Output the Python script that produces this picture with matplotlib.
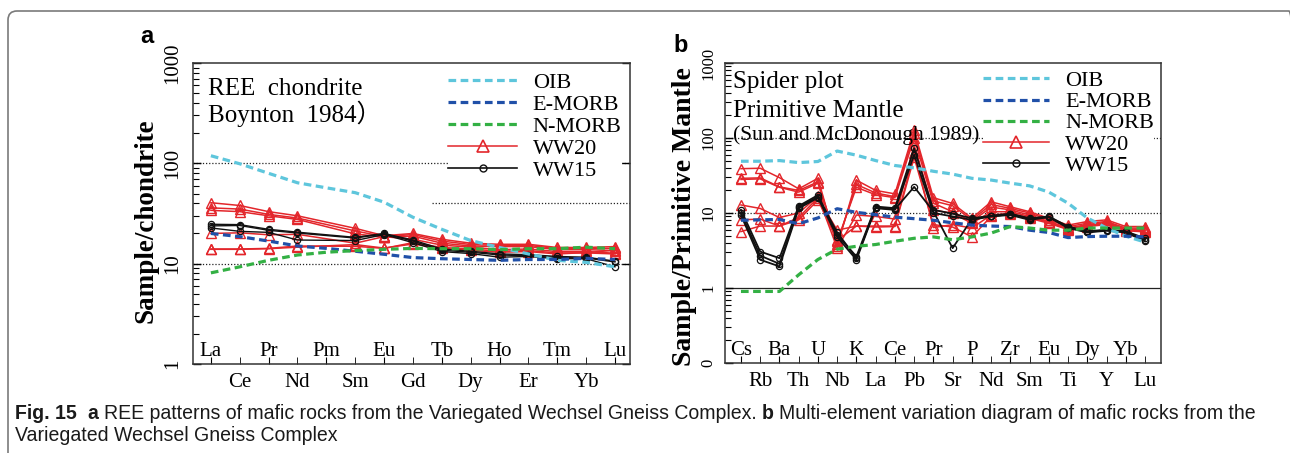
import numpy as np
import matplotlib
matplotlib.use('agg')
import matplotlib.pyplot as plt
from matplotlib.ticker import LogLocator, NullFormatter
from matplotlib.patches import FancyBboxPatch
from matplotlib.transforms import IdentityTransform
from matplotlib import font_manager

# ---- panel a: REE, chondrite normalised ----
ree = ['La', 'Ce', 'Pr', 'Nd', 'Pm', 'Sm', 'Eu', 'Gd', 'Tb', 'Dy', 'Ho', 'Er', 'Tm', 'Yb', 'Lu']
oib_ree = [119, 99, 79.5, 64, 57, 51, 41, 29, 22, 17, 14.5, 12.5, 10.8, 10.3, 9.3]
emorb_ree = [20, 18.6, 16.8, 15, 14.2, 13.3, 12.4, 11.5, 11.2, 11, 10.8, 11, 11, 11.3, 11]
nmorb_ree = [8.1, 9.3, 10.8, 12.2, 13, 13.5, 13.9, 14.2, 14.1, 14.1, 13.8, 14.1, 14.1, 14.6, 14.1]
ww20_ree = [
    [40.5, 38, 33, 30, None, 22.5, 19, 20, 17.5, 16, 15.6, 15.6, 14.5, 14.5, 14.8],
    [36, 35, 31, 28.5, None, 21.2, 18.6, 19.5, 16.8, 15.5, 15.2, 15.2, 14.2, 14.2, 14.2],
    [34, 33, 30, 27.6, None, 19.8, 18.4, 18.8, 16, 15, 14.8, 14.8, 13.8, 13.8, 13.5],
    [20, 20.3, 19.4, 19.6, None, 16, 18.6, 17.5, 15.3, 14.6, 13.8, 14, 13.2, 13.2, 12.7],
    [14, 14, 14.2, 15, None, 14.9, 14.2, 16.2, 14.5, 14, 13.3, 13.5, 12.8, 12.8, 12.5],
    [13.9, 13.9, 14.1, 14.6, None, 15.5, 14.3, 15.7, 14.2, 13.6, 13, 13.2, 12.5, 12.9, 13.6],
]
ww15_ree = [
    [24.7, 24.5, 22, 20.6, None, 18.3, 20, 17.2, 14, 13.3, 12.5, 12.3, 11.8, 11.6, 10.6],
    [23.8, 24, 21.5, 20.2, None, 18, 19.8, 16.8, 13.6, 13, 12.2, 12, 11.5, 11.4, 10.4],
    [22.7, 21, 20.5, 17.2, None, 17, 19.5, 16.2, 13.2, 12.6, 11.6, 11.8, 11.2, 11.2, 9.3],
]

# ---- panel b: spider, primitive mantle normalised ----
spider = ['Cs', 'Rb', 'Ba', 'Th', 'U', 'Nb', 'K', 'La', 'Ce', 'Pb', 'Pr', 'Sr', 'P', 'Nd',
          'Zr', 'Sm', 'Eu', 'Ti', 'Dy', 'Y', 'Yb', 'Lu']
oib_pm = [49, 49, 50, 47, 48.6, 67, 59, 50, 43, 40, 36, 33, 29, 27.5, 25, 23, 19, 13.5, 8.6, 6.3, 4.9, 4.1]
emorb_pm = [8.0, 8.1, 8.2, 7.2, 8.6, 11.4, 10.2, 9.5, 8.8, 8.4, 8.0, 7.4, 6.9, 6.7, 6.6, 5.9, 5.5, 4.7, 4.85, 4.9, 4.9, 4.8]
nmorb_pm = [0.9, 0.9, 0.9, 1.5, 2.4, 3.3, 3.6, 3.8, 4.2, 4.6, 4.8, 4.4, 4.8, 5.4, 6.6, 6.3, 5.9, 5.9, 6.3, 6.3, 6.3, 6.3]
ww20_pm = [
    [39, 39.5, 29.6, 21, 29, 3.6, 27.4, 20, 18, 126, 16, 13.4, 8.5, 14.1, 12.1, 10.4, 8.5, 6.9, 7.7, 8.1, 6.6, 6.6],
    [29, 29.4, 22.3, 20, 26, 3.9, 24, 18.5, 16.5, 115, 14.5, 12.5, 8.1, 13, 11.5, 10, 8.1, 6.6, 7.3, 7.7, 6.3, 6.3],
    [28, 28.5, 22, 19, 25, 4.2, 22, 17.5, 16, 100, 13.5, 10.4, 7.7, 12, 11, 9.4, 7.7, 6.3, 7, 7.5, 6.1, 6.1],
    [12.8, 11.5, 8.7, 10, 16.7, 3.4, 9.4, 9, 8.3, 80, 11, 9.9, 7.3, 10.4, 10.4, 9, 7.5, 6.1, 6.9, 7.3, 6.0, 5.9],
    [8.1, 8.3, 6.7, 8.1, 14.9, 4.3, 6.7, 6.7, 6.7, 63, 6.4, 7.0, 6.3, 9.4, 9.9, 8.5, 7.3, 6.0, 6.6, 7.0, 5.8, 5.6],
    [5.65, 6.7, 6.7, 8.7, 16, 5.9, 6.7, 6.5, 6.6, 55, 7, 6.5, 4.8, 9.0, 9.6, 8.8, 7.6, 6.2, 6.8, 7.2, 6.0, 5.8],
]
ww15_pm = [
    [11, 3.06, 2.5, 12.4, 17.3, 5.1, 2.63, 12.2, 11.6, 73, 11, 9.8, 8.5, 9.2, 9.8, 8.5, 9.0, 6.6, 5.7, 6.0, 5.7, 4.6],
    [9.4, 2.38, 1.94, 11.5, 16, 4.8, 2.38, 11.6, 11, 60, 10, 9.0, 8.1, 9.0, 9.4, 8.1, 8.8, 6.3, 5.5, 5.8, 5.5, 4.2],
    [10, 2.7, 2.1, 12, 16.5, 5.5, 2.5, 11.8, 11.2, 22.3, 10.5, 3.4, 8.3, 9.1, 9.6, 8.3, 8.9, 6.5, 5.6, 5.9, 5.6, 4.4],
]

serif = ['Liberation Serif', 'DejaVu Serif']
red = '#e3262b'
models = [('OIB', '#5ec6dc'), ('E-MORB', '#2050a8'), ('N-MORB', '#33b044')]

W, H = 1290, 453
fig = plt.figure(figsize=(W/100, H/100), dpi=100)

def draw_panel(ax, labels, model_vals, ww20, ww15, blw):
    for row in ww20:
        xs = [i for i, v in enumerate(row) if v is not None]
        ys = [v for v in row if v is not None]
        ax.plot(xs, ys, color=red, lw=1.1, marker='^', ms=6.5, mfc='none', mec=red, mew=1.0, zorder=3)
    for row in ww15:
        xs = [i for i, v in enumerate(row) if v is not None]
        ys = [v for v in row if v is not None]
        ax.plot(xs, ys, color='#111111', lw=blw, marker='o', ms=4.5, mfc='none', mec='#111111', mew=0.9, zorder=3)
    for (name, col), vals in zip(models, model_vals):
        ax.plot(range(len(labels)), vals, color=col, lw=2.3, ls=(0, (2.4, 1.4)), zorder=4)

    ax.set_yscale('log')
    ax.yaxis.set_minor_locator(LogLocator(subs=np.arange(2, 10)))
    ax.yaxis.set_minor_formatter(NullFormatter())
    ax.tick_params(axis='y', which='both', direction='in', left=True, right=False)
    ax.tick_params(axis='y', which='major', length=6, width=1)
    ax.tick_params(axis='y', which='minor', length=4, width=0.8)

    n = len(labels)
    ax.set_xticks(range(0, n, 2))
    ax.set_xticklabels(labels[0::2], family=serif, fontsize=15)
    ax.set_xticks(range(1, n, 2), minor=True)
    ax.set_xticklabels(labels[1::2], minor=True, family=serif, fontsize=15)
    ax.tick_params(axis='x', which='major', direction='in', length=5, pad=-16)
    ax.tick_params(axis='x', which='minor', direction='in', length=5, pad=6.5)
    for sp in ax.spines.values():
        sp.set_linewidth(1.1)
        sp.set_color('#333333')

    # legend
    handles = []
    for name, col in models:
        handles.append(plt.Line2D([], [], color=col, lw=2.3, ls=(0, (2.4, 1.4)), label=name))
    handles.append(plt.Line2D([], [], color=red, lw=1.1, marker='^', ms=8, mfc='none', mec=red, mew=1.2, label='WW20'))
    handles.append(plt.Line2D([], [], color='#111111', lw=1.2, marker='o', ms=5, mfc='none', mec='#111111', mew=1.0, label='WW15'))
    return handles

# panel a
axa = fig.add_axes([193/W, 1-364/H, 437/W, 301/H])
ha = draw_panel(axa, ree, [oib_ree, emorb_ree, nmorb_ree], ww20_ree, ww15_ree, 1.0)
axa.set_xlim(-0.62, 14.52)
axa.set_ylim(1, 1000)
axa.set_yticks([1, 10, 100, 1000])
axa.set_yticklabels(['1', '10', '100', '1000'], rotation=90, va='center', family=serif, fontsize=15)
axa.tick_params(axis='y', which='major', pad=8, right=True)
axa.axhline(100, color='#222222', lw=0.9, ls=(0, (1, 1.5)), zorder=1)
axa.axhline(10, color='#222222', lw=0.9, ls=(0, (1, 1.5)), zorder=1)
axa.axhline(40, xmin=0.547, xmax=1, color='#222222', lw=0.9, ls=(0, (1, 1.5)), zorder=1)
axa.set_ylabel('Sample/chondrite', family=serif, fontsize=19.5, weight='bold')
axa.yaxis.set_label_coords(-0.08, 0.475)
axa.text(0.034, 0.894, 'REE  chondrite', transform=axa.transAxes, family=serif, fontsize=18, va='baseline')
axa.text(0.034, 0.804, 'Boynton  1984\uff09', transform=axa.transAxes, family=serif + ['Noto Sans CJK SC'],
         fontsize=18, va='baseline')
lga = axa.legend(handles=ha, loc='upper left', bbox_to_anchor=(0.584, 0.968), prop={'family': serif, 'size': 16},
                 handlelength=3.1, handletextpad=0.7, labelspacing=0.06, borderpad=0, borderaxespad=0,
                 frameon=True, fancybox=False, edgecolor='none', facecolor='white', framealpha=1)
fig.text(140/W, 1-43/H, 'a', family=['Liberation Sans'], weight='bold', fontsize=17)

# panel b
axb = fig.add_axes([725/W, 1-363/H, 436/W, 300/H])
hb = draw_panel(axb, spider, [oib_pm, emorb_pm, nmorb_pm], ww20_pm, ww15_pm, 1.3)
axb.set_xlim(-0.83, 21.83)
axb.set_ylim(0.1, 1000)
axb.set_yticks([0.1, 1, 10, 100, 1000])
axb.set_yticklabels(['0', '1', '10', '100', '1000'], rotation=90, va='center', family=serif, fontsize=12)
axb.tick_params(axis='y', which='major', pad=6)
axb.axhline(100, color='#222222', lw=0.9, ls=(0, (1, 1.5)), zorder=1)
axb.axhline(10, color='#222222', lw=0.9, ls=(0, (1, 1.5)), zorder=1)
axb.axhline(1, color='#222222', lw=0.9, zorder=1)
axb.set_ylabel('Sample/Primitive Mantle', family=serif, fontsize=20, weight='bold')
axb.yaxis.set_label_coords(-0.064, 0.487)
axb.text(0.018, 0.917, 'Spider plot', transform=axb.transAxes, family=serif, fontsize=18, va='baseline')
axb.text(0.018, 0.82, 'Primitive Mantle', transform=axb.transAxes, family=serif, fontsize=18, va='baseline')
axb.text(0.018, 0.743, '(Sun and McDonough 1989)', transform=axb.transAxes, family=serif, fontsize=15.5, va='baseline')
lgb = axb.legend(handles=hb, loc='upper left', bbox_to_anchor=(0.592, 0.975), prop={'family': serif, 'size': 16},
                 handlelength=2.95, handletextpad=0.75, labelspacing=0.03, borderpad=0, borderaxespad=0,
                 frameon=True, fancybox=False, edgecolor='none', facecolor='white', framealpha=1)
fig.text(673/W, 1-52/H, 'b', family=['Liberation Sans'], weight='bold', fontsize=17)

# outer frame
frame = FancyBboxPatch((8, -30), 1290, 453-11+30, boxstyle='round,pad=0,rounding_size=9',
                       transform=IdentityTransform(), fill=False, edgecolor='#7a7a7a', lw=1.2)
fig.patches.append(frame)

# caption, fitted to the reference width
names = {f.name for f in font_manager.fontManager.ttflist}
capfam = 'Liberation Sans Narrow' if 'Liberation Sans Narrow' in names else 'Liberation Sans'
line1 = [('Fig. 15', True), ('  ', None), ('a', True), (' ', None),
         ('REE patterns of mafic rocks from the Variegated Wechsel Gneiss Complex.', False), (' ', None),
         ('b', True), (' ', None), ('Multi-element variation diagram of mafic rocks from the', False)]
line2 = [('Variegated Wechsel Gneiss Complex', False)]
renderer = fig.canvas.get_renderer()

def text_w(s, fs, bold):
    t = fig.text(0, 0, s, fontsize=fs, family=capfam, weight='bold' if bold else 'normal')
    w = t.get_window_extent(renderer).width
    t.remove()
    return w

def layout(pieces, x0, ybase, fs, draw=True):
    sp = text_w('a a', fs, False) - text_w('aa', fs, False)
    x = x0
    for s, b in pieces:
        if b is None:
            x += sp * len(s)
            continue
        if draw:
            fig.text(x/W, 1-ybase/H, s, fontsize=fs, family=capfam, weight='bold' if b else 'normal',
                     va='baseline', color='#1a1a1a')
        x += text_w(s, fs, b)
    return x

fs0 = 14.0
wid = layout(line1, 15, 419, fs0, draw=False) - 15
fs = fs0 * 1247.0 / wid
layout(line1, 15, 419, fs)
layout(line2, 15, 441, fs)

fig.savefig('out.png', dpi=100)
